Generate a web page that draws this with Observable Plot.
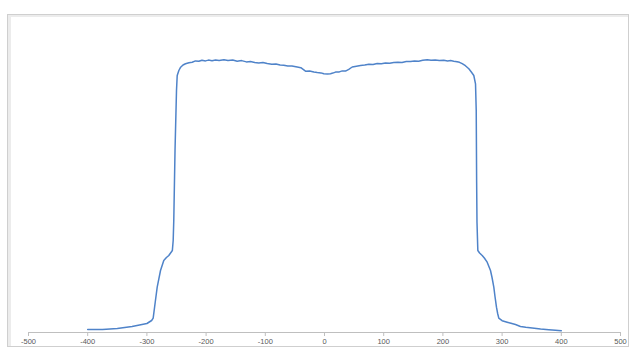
<!DOCTYPE html>
<html>
<head>
<meta charset="utf-8">
<script src="https://cdn.jsdelivr.net/npm/d3@7"></script>
<script src="https://cdn.jsdelivr.net/npm/@observablehq/plot@0.6"></script>
<style>
  html, body { margin: 0; padding: 0; background: #fff; }
  #wrap { position: relative; width: 630px; height: 349px; overflow: hidden; }
  #frame { position: absolute; left: 7px; top: 14px; width: 620px; height: 331px;
           border: 1px solid #cfcfcf; box-shadow: inset 3px 2px 0 #ececec; }
  #chart { position: absolute; left: 0; top: 0; }
</style>
</head>
<body>
<div id="wrap"><div id="frame"></div><div id="chart"></div></div>
<script>
// Position (x) and intensity (arbitrary units)
const xs = [-400, -375, -350, -325, -300, -292, -289.4, -286, -282.6, -277, -271.5, -267, -263, -257, -255.6,
  -254.6, -252.5, -250, -248.8, -246, -243, -239, -234.8, -229, -223.5, -218, -212.3, -207, -201, -196, -190,
  -184, -178, -170, -163, -155, -147.5, -140, -132, -125, -118, -111, -104, -96.8, -89, -82, -75, -68.8, -62,
  -55, -46.1, -40, -32.1, -25, -18, -12.3, -6, -1.2, 5, 10.1, 14, 18.6, 25, 30, 35.5, 41, 46.8, 54, 60.8, 68,
  75, 82, 89, 96, 103, 110, 117, 124, 131, 138, 145.3, 152, 159, 166, 173.5, 180, 187, 194, 201.5, 208, 213,
  218.4, 224, 228, 232.6, 238, 243.8, 248, 252.2, 255.1, 256.3, 257, 257.6, 259, 262, 266.4, 270, 274.8, 280.4,
  283, 286, 288, 290.5, 292.5, 294.4, 300, 308.6, 315, 322.6, 331, 340, 350.8, 365, 378.9, 390, 400];
const ys = [3, 2.9, 4, 6, 9, 12, 14.3, 30, 45.3, 62, 72, 75, 77, 82, 92,
  112, 182, 242, 257, 262, 265.3, 267.5, 268.7, 269.8, 270.3, 271.6, 271.2, 272.3, 271.6, 272.4, 271.8,
  272.6, 272.1, 272.8, 271.9, 272.5, 271.3, 271.9, 270.6, 270.9, 270.1, 269.6, 269.9, 268.9, 268.2, 268.6,
  267.6, 267.2, 266.4, 266.6, 265.5, 264.8, 261.3, 261.5, 260.5, 259.9, 259.6, 258.7, 258.5, 258.8, 259.4,
  260.4, 260.6, 261.6, 261.4, 263.2, 265.5, 266.3, 267.1, 267.4, 268.3, 268.0, 268.9, 268.7, 269.5, 269.2,
  269.9, 270.3, 270.1, 270.9, 271.1, 271.6, 271.3, 272.2, 272.8, 272.3, 272.6, 271.9, 272.2, 271.6, 271.9,
  271.3, 270.8, 270.2, 268.8, 266.8, 263.7, 260.5, 257, 248.7, 222, 150, 110, 82, 79.5, 77, 74.5, 70.3, 62,
  55, 45.3, 36, 25.3, 19, 14.3, 11.8, 10.3, 9.2, 8, 6, 5.2, 4.5, 3.4, 2.7, 2.2, 1.8];
const xTicks = [-500, -400, -300, -200, -100, 0, 100, 200, 300, 400, 500];

const data = xs.map((x, i) => ({x, y: ys[i]}));

const chart = Plot.plot({
  width: 630,
  height: 349,
  marginLeft: 28,
  marginRight: 10,
  marginTop: 32,
  marginBottom: 17,
  x: {domain: [-500, 500], label: null},
  y: {domain: [0, 300], axis: null, label: null},
  style: {background: "transparent", fontFamily: "Liberation Sans, Arial, sans-serif"},
  marks: [
    Plot.ruleY([0], {stroke: "#bfbfbf", strokeWidth: 1}),
    Plot.axisX({
      ticks: xTicks,
      tickSize: 4,
      tickPadding: 2,
      stroke: "#bfbfbf",
      fill: "#595959",
      fontSize: 7.5,
      label: null,
      tickFormat: d => String(d)
    }),
    Plot.line(data, {x: "x", y: "y", stroke: "#4f83c9", strokeWidth: 1.5, curve: "linear"})
  ]
});
document.getElementById("chart").appendChild(chart);
</script>
</body>
</html>
